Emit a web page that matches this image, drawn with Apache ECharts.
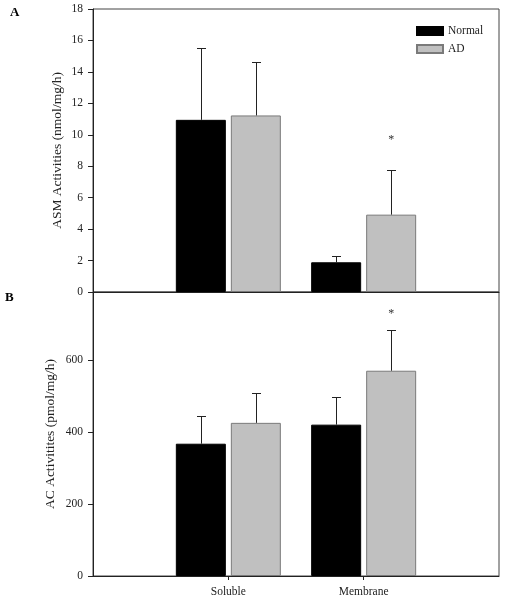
<!DOCTYPE html>
<html>
<head>
<meta charset="utf-8">
<script src="https://cdn.jsdelivr.net/npm/echarts@6/dist/echarts.min.js"></script>
<style>html,body{margin:0;padding:0;background:#fff}#c{width:506px;height:600px}</style>
</head>
<body>
<div id="c"></div>
<script>
// ---- data ----
const groups = ['Soluble', 'Membrane'];
const seriesNames = ['Normal', 'AD'];
// Panel A: ASM activities (nmol/mg/h)
const asmNormal = [10.95, 1.89];
const asmNormalErr = [4.55, 0.43];
const asmAD = [11.23, 4.92];
const asmADErr = [3.37, 2.86];
const asmStarAD = [null, 9.7];
const asmTicks = [0, 2, 4, 6, 8, 10, 12, 14, 16, 18];
// Panel B: AC activities (pmol/mg/h)
const acNormal = [368, 421];
const acNormalErr = [78, 77];
const acAD = [426, 571];
const acADErr = [84, 114];
const acStarAD = [null, 728];
const acTicks = [0, 200, 400, 600];

// ---- build ----
const categories = [''].concat(groups, ['']);
const pad = arr => [null].concat(arr, [null]);
const FONT = 'Liberation Serif';
const BAR_W = 50, BAR_GAP = 5;
const OFF = (BAR_W + BAR_GAP) / 2;

function errSeries(gi, vals, errs, side) {
  return {
    type: 'custom', xAxisIndex: gi, yAxisIndex: gi, z: 5, silent: true,
    data: vals.map((v, i) => [i + 1, v, errs[i]]),
    renderItem: (params, api) => {
      const p0 = api.coord([api.value(0), api.value(1)]);
      const p1 = api.coord([api.value(0), api.value(1) + api.value(2)]);
      const x = Math.round(p0[0] + side * OFF) + 0.5;
      const yt = Math.round(p1[1]) + 0.5;
      return { type: 'group', children: [
        { type: 'line', shape: { x1: x, y1: p0[1], x2: x, y2: yt }, style: { stroke: '#222', lineWidth: 1 } },
        { type: 'line', shape: { x1: x - 4.5, y1: yt, x2: x + 4.5, y2: yt }, style: { stroke: '#222', lineWidth: 1 } }
      ]};
    }
  };
}
function starSeries(gi, stars, side) {
  const d = [];
  stars.forEach((v, i) => { if (v != null) d.push([i + 1, v]); });
  return {
    type: 'custom', xAxisIndex: gi, yAxisIndex: gi, z: 5, silent: true, data: d,
    renderItem: (params, api) => {
      const p = api.coord([api.value(0), api.value(1)]);
      return { type: 'text', x: p[0] + side * OFF, y: p[1],
        style: { text: '*', fontFamily: FONT, fontSize: 12, fill: '#333', align: 'center', verticalAlign: 'middle' } };
    }
  };
}
function barSeries(gi, name, vals) {
  const ad = name === 'AD';
  return {
    type: 'bar', name: name, xAxisIndex: gi, yAxisIndex: gi,
    data: pad(vals), barWidth: BAR_W, barGap: (BAR_GAP / BAR_W * 100) + '%',
    itemStyle: ad ? { color: '#c0c0c0', borderColor: '#7a7a7a', borderWidth: 1 }
                  : { color: '#000000', borderColor: '#000000', borderWidth: 1 },
    emphasis: { disabled: true }
  };
}
function yAxis(gi, ticks, max, title, gap) {
  const step = ticks[1] - ticks[0];
  return {
    type: 'value', gridIndex: gi, min: ticks[0], max: max, interval: step,
    name: title, nameLocation: 'middle', nameGap: gap, nameMoveOverlap: false,
    nameTextStyle: { fontFamily: FONT, fontSize: 13.5, color: '#222' },
    axisLine: { show: true, lineStyle: { color: '#222', width: 1 } },
    axisTick: { show: true, length: 5, lineStyle: { color: '#222' } },
    axisLabel: { fontFamily: FONT, fontSize: 11.5, color: '#222', margin: 10,
      formatter: v => ticks.indexOf(v) >= 0 ? String(v) : '' },
    splitLine: { show: false }
  };
}
function xAxis(gi, showLabels) {
  return {
    type: 'category', gridIndex: gi, data: categories, boundaryGap: false,
    axisLine: { show: true, lineStyle: { color: '#222', width: 1 } },
    axisTick: { show: showLabels, length: 4, interval: (i) => i === 1 || i === 2, lineStyle: { color: '#222' } },
    axisLabel: { show: showLabels, interval: 0, fontFamily: FONT, fontSize: 11.5, color: '#222', margin: 10 },
    splitLine: { show: false }
  };
}

const chart = echarts.init(document.getElementById('c'), null, { renderer: 'canvas' });
chart.setOption({
  animation: false,
  backgroundColor: '#fff',
  grid: [
    { left: 93, right: 7, top: 9, height: 283, show: true, borderColor: '#444', borderWidth: 1 },
    { left: 93, right: 7, top: 292, height: 284, show: true, borderColor: '#444', borderWidth: 1 }
  ],
  legend: {
    data: seriesNames, orient: 'vertical', left: 411, top: 20,
    itemWidth: 26, itemHeight: 8, itemGap: 6, icon: 'rect',
    textStyle: { fontFamily: FONT, fontSize: 11.5, color: '#222' }, selectedMode: false
  },
  xAxis: [xAxis(0, false), xAxis(1, true)],
  yAxis: [
    yAxis(0, asmTicks, 18, 'ASM Activities (nmol/mg/h)', 29),
    yAxis(1, acTicks, 790, 'AC Activitites (pmol/mg/h)', 36)
  ],
  graphic: [
    { type: 'text', left: 10, top: 6, style: { text: 'A', fontFamily: FONT, fontWeight: 'bold', fontSize: 13, fill: '#000' } },
    { type: 'text', left: 5, top: 291, style: { text: 'B', fontFamily: FONT, fontWeight: 'bold', fontSize: 13, fill: '#000' } }
  ],
  series: [
    barSeries(0, 'Normal', asmNormal), barSeries(0, 'AD', asmAD),
    errSeries(0, asmNormal, asmNormalErr, -1), errSeries(0, asmAD, asmADErr, 1),
    starSeries(0, asmStarAD, 1),
    barSeries(1, 'Normal', acNormal), barSeries(1, 'AD', acAD),
    errSeries(1, acNormal, acNormalErr, -1), errSeries(1, acAD, acADErr, 1),
    starSeries(1, acStarAD, 1)
  ]
});
</script>
</body>
</html>
